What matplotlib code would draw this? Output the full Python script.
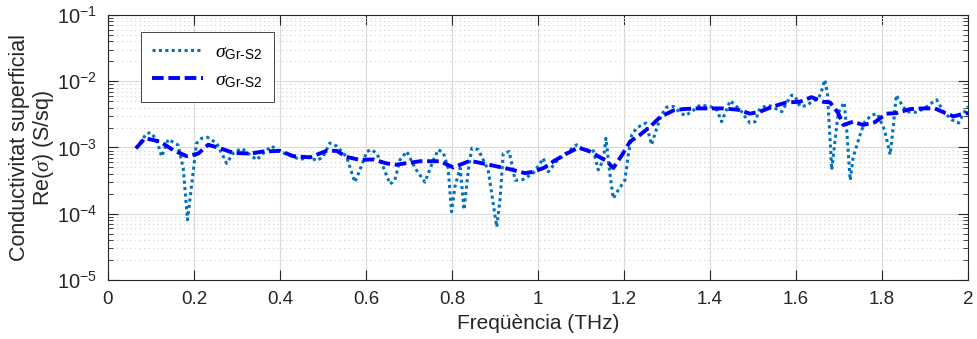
import numpy as np
import matplotlib
matplotlib.use("Agg")
import matplotlib.pyplot as plt
from matplotlib.ticker import LogLocator, NullFormatter

# Data (frequency in THz, Re(sigma) in S/sq)
freq_meas = [0.065, 0.09, 0.10, 0.113, 0.125, 0.14, 0.163, 0.175, 0.185, 0.206,
             0.218, 0.231, 0.253, 0.276, 0.291, 0.311, 0.346, 0.365, 0.381, 0.392,
             0.412, 0.447, 0.47, 0.485, 0.50, 0.516, 0.532, 0.555, 0.574, 0.586,
             0.602, 0.613, 0.625, 0.64, 0.656, 0.667, 0.679, 0.695, 0.714, 0.737,
             0.757, 0.768, 0.78, 0.791, 0.799, 0.807, 0.819, 0.828, 0.838, 0.846,
             0.861, 0.884, 0.904, 0.912, 0.919, 0.933, 0.947, 0.966, 0.989, 1.005,
             1.012, 1.024, 1.043, 1.074, 1.09, 1.105, 1.129, 1.14, 1.152, 1.158,
             1.167, 1.175, 1.187, 1.202, 1.21, 1.218, 1.229, 1.241, 1.251, 1.264,
             1.276, 1.287, 1.299, 1.315, 1.33, 1.342, 1.357, 1.377, 1.40, 1.416,
             1.427, 1.447, 1.458, 1.47, 1.481, 1.493, 1.505, 1.516, 1.536, 1.555,
             1.567, 1.578, 1.59, 1.598, 1.609, 1.625, 1.636, 1.652, 1.659, 1.667,
             1.673, 1.677, 1.683, 1.698, 1.712, 1.718, 1.726, 1.733, 1.749, 1.76,
             1.776, 1.789, 1.806, 1.819, 1.827, 1.833, 1.842, 1.857, 1.877, 1.896,
             1.915, 1.927, 1.943, 1.962, 1.978, 1.99, 2.0]
sigma_meas = [0.97e-3, 1.64e-3, 1.67e-3, 1.30e-3, 0.73e-3, 1.33e-3, 1.09e-3, 0.49e-3, 0.081e-3, 1.16e-3,
              1.38e-3, 1.43e-3, 1.16e-3, 0.575e-3, 0.82e-3, 0.97e-3, 0.65e-3, 0.87e-3, 1.05e-3, 0.93e-3,
              0.81e-3, 0.66e-3, 0.72e-3, 0.63e-3, 0.72e-3, 1.17e-3, 1.05e-3, 0.72e-3, 0.30e-3, 0.46e-3,
              0.87e-3, 0.93e-3, 0.81e-3, 0.51e-3, 0.28e-3, 0.32e-3, 0.65e-3, 0.87e-3, 0.49e-3, 0.30e-3,
              0.65e-3, 0.93e-3, 0.83e-3, 0.49e-3, 0.107e-3, 0.26e-3, 0.49e-3, 0.115e-3, 0.46e-3, 0.98e-3,
              0.93e-3, 0.46e-3, 0.063e-3, 0.17e-3, 0.81e-3, 0.87e-3, 0.32e-3, 0.33e-3, 0.41e-3, 0.575e-3,
              0.69e-3, 0.43e-3, 0.62e-3, 0.91e-3, 1.10e-3, 0.93e-3, 0.89e-3, 0.46e-3, 0.65e-3, 1.38e-3,
              0.41e-3, 0.17e-3, 0.23e-3, 0.32e-3, 0.78e-3, 1.55e-3, 1.95e-3, 2.19e-3, 2.34e-3, 1.10e-3,
              1.95e-3, 3.09e-3, 4.07e-3, 4.17e-3, 3.39e-3, 3.02e-3, 3.47e-3, 4.37e-3, 4.17e-3, 3.72e-3,
              2.45e-3, 5.1e-3, 4.37e-3, 3.72e-3, 2.95e-3, 2.34e-3, 2.45e-3, 3.89e-3, 4.37e-3, 3.80e-3,
              3.47e-3, 4.68e-3, 6.17e-3, 5.89e-3, 4.17e-3, 4.27e-3, 4.90e-3, 5.50e-3, 6.92e-3, 10.5e-3,
              6.6e-3, 2.34e-3, 0.46e-3, 3.31e-3, 4.79e-3, 1.82e-3, 0.32e-3, 0.72e-3, 1.55e-3, 2.45e-3,
              3.09e-3, 3.24e-3, 1.82e-3, 0.78e-3, 2.34e-3, 6.17e-3, 4.90e-3, 3.47e-3, 3.39e-3, 3.80e-3,
              4.68e-3, 5.25e-3, 3.47e-3, 2.63e-3, 2.34e-3, 3.31e-3, 4.17e-3]

freq_fit = [0.065, 0.086, 0.121, 0.152, 0.183, 0.21, 0.233, 0.26, 0.291, 0.33,
            0.361, 0.40, 0.431, 0.47, 0.508, 0.532, 0.555, 0.586, 0.617, 0.648,
            0.671, 0.69, 0.726, 0.772, 0.803, 0.842, 0.88, 0.935, 0.97, 0.989,
            1.016, 1.036, 1.067, 1.094, 1.121, 1.16, 1.175, 1.196, 1.214, 1.237,
            1.26, 1.284, 1.315, 1.338, 1.369, 1.408, 1.43, 1.465, 1.493, 1.516,
            1.547, 1.578, 1.609, 1.636, 1.663, 1.679, 1.698, 1.71, 1.733, 1.756,
            1.783, 1.81, 1.834, 1.865, 1.896, 1.923, 1.947, 1.966, 1.99, 2.0]
sigma_fit = [0.97e-3, 1.38e-3, 1.23e-3, 0.91e-3, 0.74e-3, 0.81e-3, 1.10e-3, 0.98e-3, 0.83e-3, 0.81e-3,
             0.87e-3, 0.89e-3, 0.74e-3, 0.71e-3, 0.89e-3, 0.89e-3, 0.72e-3, 0.65e-3, 0.66e-3, 0.575e-3,
             0.55e-3, 0.575e-3, 0.62e-3, 0.62e-3, 0.50e-3, 0.63e-3, 0.56e-3, 0.47e-3, 0.41e-3, 0.43e-3,
             0.50e-3, 0.62e-3, 0.81e-3, 1.00e-3, 0.87e-3, 0.62e-3, 0.49e-3, 0.78e-3, 1.23e-3, 1.55e-3,
             2.04e-3, 2.88e-3, 3.63e-3, 3.80e-3, 3.89e-3, 3.89e-3, 3.89e-3, 3.72e-3, 3.24e-3, 3.47e-3,
             4.17e-3, 4.79e-3, 4.90e-3, 5.75e-3, 4.90e-3, 4.79e-3, 3.31e-3, 2.19e-3, 2.45e-3, 2.19e-3,
             2.40e-3, 3.24e-3, 3.31e-3, 3.80e-3, 3.89e-3, 3.89e-3, 3.31e-3, 2.95e-3, 3.24e-3, 3.31e-3]

x_ticks = [0, 0.2, 0.4, 0.6, 0.8, 1, 1.2, 1.4, 1.6, 1.8, 2]
x_labels = ['0', '0.2', '0.4', '0.6', '0.8', '1', '1.2', '1.4', '1.6', '1.8', '2']
legend_labels = [r'$\sigma_{\text{Gr-S2}}$', r'$\sigma_{\text{Gr-S2}}$']

plt.rcParams['font.family'] = ['Liberation Sans', 'DejaVu Sans']
plt.rcParams['mathtext.fontset'] = 'custom'
plt.rcParams['mathtext.rm'] = 'Liberation Sans'
plt.rcParams['mathtext.it'] = 'Liberation Serif:italic'

ink = '#262626'
fig = plt.figure(figsize=(9.78, 3.39), dpi=100)
ax = fig.add_axes([0.1104, 0.174, 0.8794, 0.7818])

ax.semilogy(freq_meas, sigma_meas, color='#0072BD', lw=2.2, dashes=(1, 1.1),
            label=legend_labels[0], zorder=3)
ax.semilogy(freq_fit, sigma_fit, color='#0000FF', lw=2.8, dashes=(3, 1.2),
            label=legend_labels[1], zorder=4)

ax.set_xlim(0, 2)
ax.set_ylim(1e-5, 1e-1)
ax.set_xticks(x_ticks)
ax.set_xticklabels(x_labels)
ax.yaxis.set_major_locator(LogLocator(base=10, numticks=10))
ax.yaxis.set_minor_locator(LogLocator(base=10, subs=np.arange(2, 10), numticks=20))
ax.yaxis.set_minor_formatter(NullFormatter())

# MATLAB-like grid and ticks
ax.grid(True, which='major', color='#dadada', lw=0.8)
ax.grid(True, which='minor', axis='y', color='#cfcfcf', lw=0.8, linestyle=(0, (1, 3)))
ax.set_axisbelow(True)
ax.tick_params(which='both', direction='in', top=True, right=True, colors=ink, pad=8)
ax.tick_params(axis='x', labelsize=13.5)
ax.tick_params(axis='y', labelsize=14.5)
ax.tick_params(which='major', length=7, width=0.8)
ax.tick_params(which='minor', length=3.5, width=0.6)
for s in ax.spines.values():
    s.set_color(ink)
    s.set_linewidth(0.8)

ax.set_xlabel('Freqüència (THz)', fontsize=15, color=ink, labelpad=4)
ax.set_ylabel('Conductivitat superficial\n' + r'Re($\sigma$) (S/sq)', fontsize=15.5,
              color=ink, linespacing=1.05, labelpad=0)
ax.yaxis.set_label_coords(-0.061, 0.5)

leg = ax.legend(loc='upper left', bbox_to_anchor=(0.038, 0.936), borderaxespad=0,
                fontsize=14, handlelength=2.6, handletextpad=0.6, borderpad=0.6,
                labelspacing=0.5, fancybox=False, framealpha=1, edgecolor='#262626')
leg.get_frame().set_linewidth(0.6)

fig.savefig('out.png', dpi=100)
